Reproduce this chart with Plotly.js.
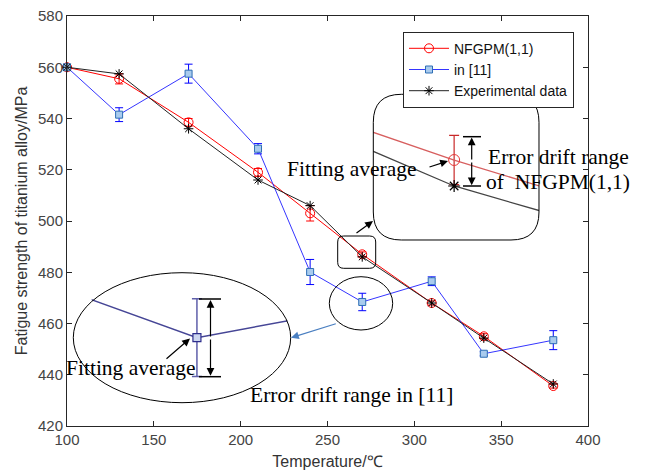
<!DOCTYPE html>
<html>
<head>
<meta charset="utf-8">
<script src="https://cdn.plot.ly/plotly-3.0.1.min.js"></script>
<style>html,body{margin:0;padding:0;background:#fff;}#chart{width:648px;height:473px;}</style>
</head>
<body>
<div id="chart"></div>
<script>
// ---- data ----
const temps = [100, 130, 170, 210, 240, 270, 310, 340, 380];
const nfgpm = [560, 555.5, 538.5, 519, 503, 487, 468, 455, 435.6];
const nfgpmErr = [0, 2, 1.5, 1.5, 3, 0.95, 0.8, 1, 0.8];
const ref11 = [560, 541.5, 557.5, 528.2, 480.1, 468.4, 476.5, 448.2, 453.5];
const ref11Err = [0, 2.7, 3.7, 2, 4.9, 3.4, 1.7, 0.8, 3.7];
const experimental = [560, 557.4, 536, 516, 506, 486, 468, 454.3, 436.4];
const seriesNames = ['NFGPM(1,1)', 'in [11]', 'Experimental data'];
const xTickVals = [100, 150, 200, 250, 300, 350, 400];
const yTickVals = [420, 440, 460, 480, 500, 520, 540, 560, 580];

// ---- layout geometry (pixels) ----
const FW = 648, FH = 473;
const L = 67, R = 588, T = 16, B = 426;
const W = R - L, H = B - T;
const px = x => (x - L) / W;
const py = y => (B - y) / H;

function roundRect(x0, y0, x1, y1, r) {
  const p = (x, y) => px(x).toFixed(5) + ',' + py(y).toFixed(5);
  return 'M' + p(x0 + r, y0) + ' L' + p(x1 - r, y0) + ' Q' + p(x1, y0) + ' ' + p(x1, y0 + r) +
    ' L' + p(x1, y1 - r) + ' Q' + p(x1, y1) + ' ' + p(x1 - r, y1) +
    ' L' + p(x0 + r, y1) + ' Q' + p(x0, y1) + ' ' + p(x0, y1 - r) +
    ' L' + p(x0, y0 + r) + ' Q' + p(x0, y0) + ' ' + p(x0 + r, y0) + ' Z';
}

const sans = 'Liberation Sans, Arial, sans-serif';
const serif = 'Liberation Serif, Times New Roman, serif';

const traces = [
  {
    x: temps, y: nfgpm, name: seriesNames[0], type: 'scatter', mode: 'lines+markers',
    line: {color: '#ff0000', width: 1},
    marker: {symbol: 'circle-open', size: 9, color: '#ff0000', line: {width: 1}},
    error_y: {type: 'data', array: nfgpmErr, visible: true, color: '#ff0000', thickness: 1, width: 4},
    cliponaxis: false
  },
  {
    x: temps, y: ref11, name: seriesNames[1], type: 'scatter', mode: 'lines+markers',
    line: {color: '#3535ff', width: 1},
    marker: {symbol: 'square', size: 7, color: '#a9cbee', line: {color: '#2e6fb5', width: 1}},
    error_y: {type: 'data', array: ref11Err, visible: true, color: '#0000ff', thickness: 1, width: 4},
    cliponaxis: false
  },
  {
    x: temps, y: experimental, name: seriesNames[2], type: 'scatter', mode: 'lines+markers',
    line: {color: '#222222', width: 1},
    marker: {symbol: 'asterisk-open', size: 8, color: '#000000', line: {color: '#000000', width: 1}},
    cliponaxis: false
  },
  // zoomed inset (rounded box) around 270
  {
    x: temps, y: nfgpm, xaxis: 'x2', yaxis: 'y2', showlegend: false, type: 'scatter', mode: 'lines+markers',
    line: {color: 'rgb(215,95,95)', width: 1.3},
    marker: {symbol: 'circle-open', size: 11, color: 'rgb(230,60,60)', line: {width: 1}},
    error_y: {type: 'data', array: nfgpmErr, visible: true, color: 'rgb(200,40,40)', thickness: 1.2, width: 5}
  },
  {
    x: temps, y: experimental, xaxis: 'x2', yaxis: 'y2', showlegend: false, type: 'scatter', mode: 'lines+markers',
    line: {color: '#444444', width: 1.3},
    marker: {symbol: 'asterisk-open', size: 10, color: '#000', line: {color: '#000', width: 1.2}}
  },
  // zoomed inset (ellipse) around 270 for [11]
  {
    x: temps, y: ref11, xaxis: 'x3', yaxis: 'y3', showlegend: false, type: 'scatter', mode: 'lines+markers',
    line: {color: 'rgb(70,70,150)', width: 1.5},
    marker: {symbol: 'square', size: 8, color: 'rgb(205,215,240)', line: {color: 'rgb(45,45,140)', width: 1.2}},
    error_y: {type: 'data', array: ref11Err, visible: true, color: 'rgb(95,95,170)', thickness: 1.5, width: 5}
  }
];

function arrow(tx, ty, hx, hy, color) {
  return {
    x: px(hx), y: py(hy), xref: 'paper', yref: 'paper',
    ax: tx - hx, ay: ty - hy, axref: 'pixel', ayref: 'pixel',
    text: '', showarrow: true, arrowhead: 2, arrowsize: 1.3,
    arrowwidth: 1.2, arrowcolor: color, standoff: 0
  };
}
function label(text, cx, cy) {
  return {
    x: px(cx), y: py(cy), xref: 'paper', yref: 'paper', text: text, showarrow: false,
    xanchor: 'center', yanchor: 'middle', font: {family: serif, size: 21.5, color: '#000'}
  };
}
function hline(x0, x1, y) {
  return {type: 'line', xref: 'paper', yref: 'paper', x0: px(x0), x1: px(x1), y0: py(y), y1: py(y),
    line: {color: '#000', width: 1.5}};
}

const layout = {
  width: FW, height: FH,
  margin: {l: L, r: FW - R, t: T, b: FH - B},
  paper_bgcolor: '#ffffff', plot_bgcolor: 'rgba(0,0,0,0)',
  font: {family: sans, color: '#333'},
  showlegend: true,
  legend: {
    x: px(403), y: py(31.7), xanchor: 'left', yanchor: 'top',
    bordercolor: '#262626', borderwidth: 1, bgcolor: '#ffffff', itemwidth: 40,
    font: {family: sans, size: 14, color: '#111'}, tracegroupgap: 0
  },
  xaxis: {
    range: [100, 400], tickvals: xTickVals, ticks: 'inside', ticklen: 5, tickcolor: '#262626',
    showline: true, linecolor: '#262626', linewidth: 1, mirror: 'ticks',
    showgrid: false, zeroline: false,
    tickfont: {family: sans, size: 15, color: '#444'},
    title: {text: 'Temperature/℃', font: {family: sans, size: 16, color: '#333'}, standoff: 8}
  },
  yaxis: {
    range: [420, 580], tickvals: yTickVals, ticks: 'inside', ticklen: 5, tickcolor: '#262626',
    showline: true, linecolor: '#262626', linewidth: 1, mirror: 'ticks',
    showgrid: false, zeroline: false,
    tickfont: {family: sans, size: 15, color: '#444'},
    title: {text: 'Fatigue strength of titanium alloy/MPa', font: {family: sans, size: 16, color: '#333'}, standoff: 6}
  },
  xaxis2: {domain: [px(373.3), px(539)], range: [268, 272.1], visible: false, anchor: 'y2'},
  yaxis2: {domain: [py(240), py(94.3)], range: [483.92, 489.53], visible: false, anchor: 'x2'},
  xaxis3: {domain: [px(91.7), px(287.3)], range: [261.5, 277.3], visible: false, anchor: 'y3'},
  yaxis3: {domain: [py(403), py(273)], range: [462.69, 474.06], visible: false, anchor: 'x3'},
  shapes: [
    {type: 'path', xref: 'paper', yref: 'paper', path: roundRect(373.3, 94.3, 539, 240, 28), line: {color: '#000', width: 1}},
    {type: 'path', xref: 'paper', yref: 'paper', path: roundRect(337.7, 236, 375.7, 268.3, 6), line: {color: '#000', width: 1}},
    {type: 'circle', xref: 'paper', yref: 'paper', x0: px(329.3), x1: px(392.7), y0: py(330), y1: py(276.7), line: {color: '#000', width: 1}},
    {type: 'circle', xref: 'paper', yref: 'paper', x0: px(73.3), x1: px(290.7), y0: py(402.7), y1: py(272.7), line: {color: '#000', width: 1}},
    hline(463, 481, 136.7), hline(463, 481, 186),
    hline(199, 221, 299), hline(199, 221, 376.7)
  ],
  annotations: [
    arrow(471.7, 161, 471.7, 137.5, '#000'),
    arrow(471.7, 161, 471.7, 185.2, '#000'),
    arrow(210.5, 338, 210.5, 300, '#000'),
    arrow(210.5, 338, 210.5, 375.8, '#000'),
    arrow(428, 167.5, 448, 161, '#000'),
    arrow(165, 360, 190, 338.5, '#000'),
    arrow(355, 234, 373, 221, '#000'),
    arrow(337.3, 323.3, 291, 337.7, '#4a7fc1'),
    label('Fitting average', 352, 169),
    label('Error drift range', 558, 157),
    label('of  NFGPM(1,1)', 558, 182),
    label('Fitting average', 131, 368),
    label('Error drift range in [11]', 351, 395)
  ]
};

Plotly.newPlot('chart', traces, layout, {displayModeBar: false, staticPlot: true});
</script>
</body>
</html>
